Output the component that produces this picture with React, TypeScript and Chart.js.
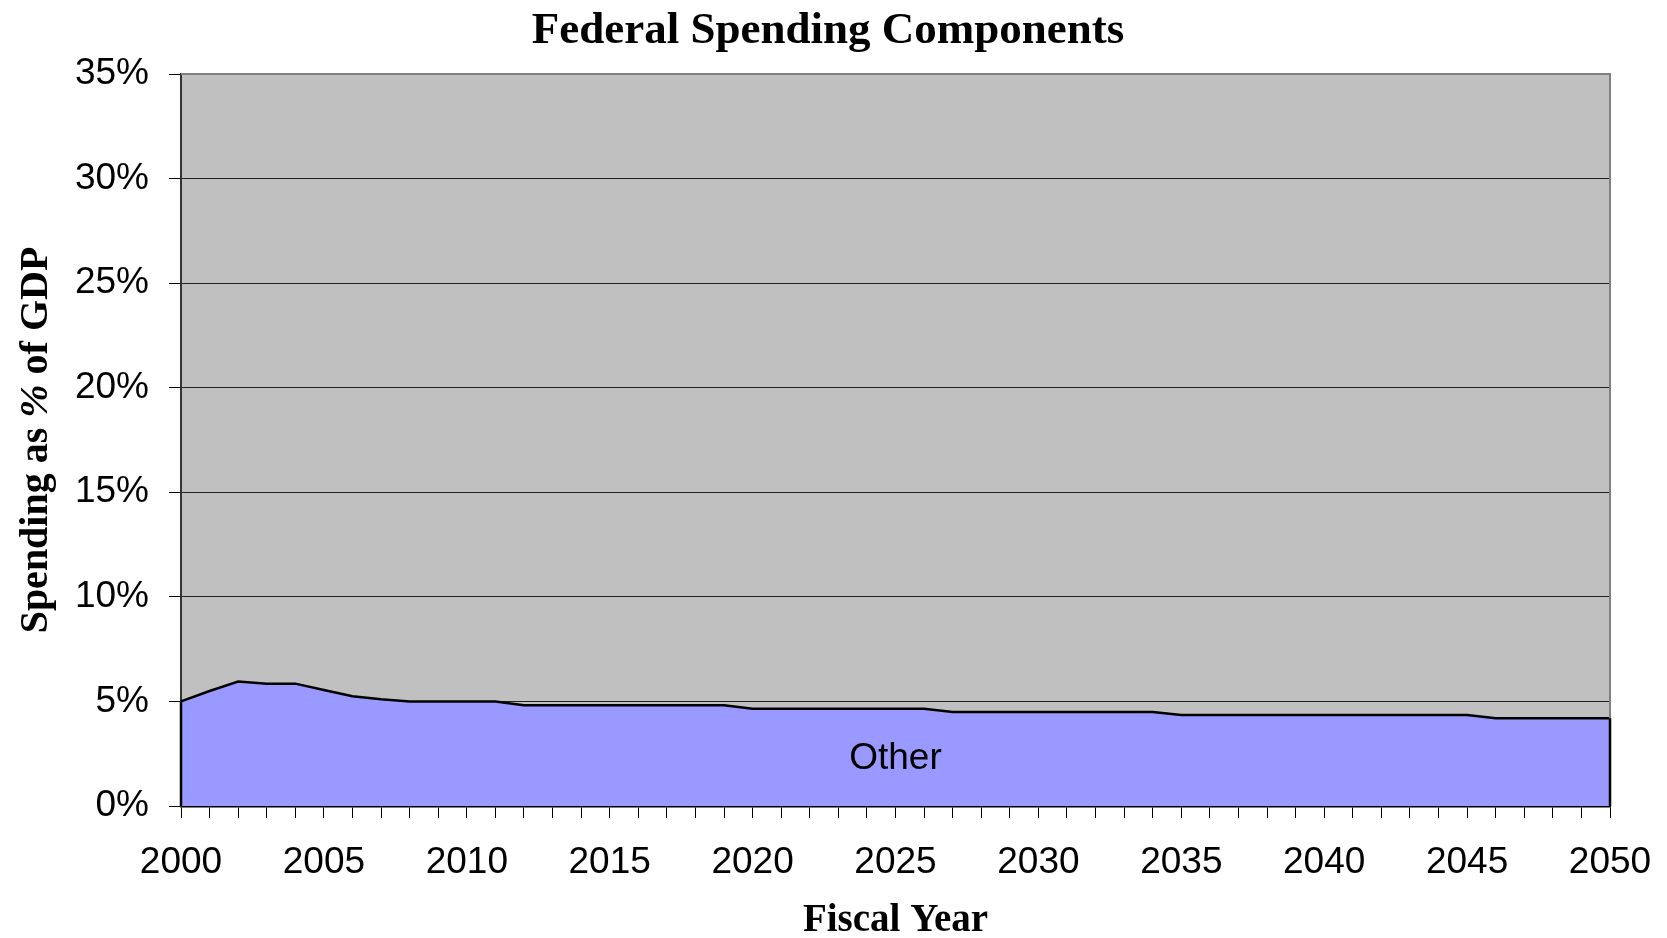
import React, { useEffect, useRef } from "react";
import { Chart, registerables } from "chart.js";

Chart.register(...registerables);

const years: string[] = [
  "2000", "2001", "2002", "2003", "2004", "2005", "2006", "2007", "2008", "2009",
  "2010", "2011", "2012", "2013", "2014", "2015", "2016", "2017", "2018", "2019",
  "2020", "2021", "2022", "2023", "2024", "2025", "2026", "2027", "2028", "2029",
  "2030", "2031", "2032", "2033", "2034", "2035", "2036", "2037", "2038", "2039",
  "2040", "2041", "2042", "2043", "2044", "2045", "2046", "2047", "2048", "2049",
  "2050",
];

const otherShare: number[] = [
  5.0, 5.5, 5.95, 5.85, 5.85, 5.55, 5.25, 5.1, 5.0, 5.0,
  5.0, 5.0, 4.82, 4.82, 4.82, 4.82, 4.82, 4.82, 4.82, 4.82,
  4.65, 4.65, 4.65, 4.65, 4.65, 4.65, 4.65, 4.5, 4.5, 4.5,
  4.5, 4.5, 4.5, 4.5, 4.5, 4.35, 4.35, 4.35, 4.35, 4.35,
  4.35, 4.35, 4.35, 4.35, 4.35, 4.35, 4.2, 4.2, 4.2, 4.2,
  4.2,
];

const yTicks: number[] = [0, 5, 10, 15, 20, 25, 30, 35];
const labeledYears: string[] = ["2000", "2005", "2010", "2015", "2020", "2025", "2030", "2035", "2040", "2045", "2050"];

const chartTitle = "Federal Spending Components";
const xTitle = "Fiscal Year";
const yTitleParts = [
  { text: "Spending as ", italic: false },
  { text: "%", italic: true },
  { text: " of GDP", italic: false },
];
const areaLabel = { text: "Other", year: "2025", value: 2.25 };

const SERIF = "'Liberation Serif', 'Times New Roman', serif";
const SANS = "'Liberation Sans', Arial, sans-serif";

const decorPlugin = {
  id: "decor",
  beforeDraw(chart: any) {
    const { ctx, chartArea } = chart;
    ctx.save();
    ctx.fillStyle = "#ffffff";
    ctx.fillRect(0, 0, chart.width, chart.height);
    ctx.fillStyle = "#C0C0C0";
    ctx.fillRect(chartArea.left, chartArea.top, chartArea.right - chartArea.left, chartArea.bottom - chartArea.top);
    ctx.restore();
  },
  afterDatasetsDraw(chart: any) {
    const { ctx, chartArea, scales } = chart;
    const x = scales.x;
    const y = scales.y;
    ctx.save();
    // plot border (top & right) in gray
    ctx.strokeStyle = "#808080";
    ctx.lineWidth = 2;
    ctx.beginPath();
    ctx.moveTo(chartArea.left, chartArea.top);
    ctx.lineTo(chartArea.right, chartArea.top);
    ctx.lineTo(chartArea.right, chartArea.bottom);
    ctx.stroke();
    // area edges in black
    ctx.strokeStyle = "#000000";
    ctx.lineWidth = 2.5;
    const first = otherShare[0];
    const last = otherShare[otherShare.length - 1];
    ctx.beginPath();
    ctx.moveTo(x.getPixelForValue(0), y.getPixelForValue(0));
    ctx.lineTo(x.getPixelForValue(0), y.getPixelForValue(first));
    ctx.moveTo(x.getPixelForValue(years.length - 1), y.getPixelForValue(0));
    ctx.lineTo(x.getPixelForValue(years.length - 1), y.getPixelForValue(last));
    ctx.stroke();
    // area label
    ctx.fillStyle = "#000000";
    ctx.font = `37px ${SANS}`;
    ctx.textAlign = "center";
    ctx.textBaseline = "middle";
    ctx.fillText(areaLabel.text, x.getPixelForValue(years.indexOf(areaLabel.year)), y.getPixelForValue(areaLabel.value));
    ctx.restore();
  },
  afterDraw(chart: any) {
    const { ctx, chartArea } = chart;
    ctx.save();
    ctx.fillStyle = "#000000";
    // title
    ctx.font = `bold 45px ${SERIF}`;
    ctx.textAlign = "center";
    ctx.textBaseline = "alphabetic";
    ctx.fillText(chartTitle, 828, 43);
    // x title
    ctx.font = `bold 39px ${SERIF}`;
    ctx.fillText(xTitle, (chartArea.left + chartArea.right) / 2, 931);
    // y title (rotated, with italic %)
    ctx.translate(47, 440);
    ctx.rotate(-Math.PI / 2);
    const widths = yTitleParts.map((p) => {
      ctx.font = `${p.italic ? "italic " : ""}bold 40px ${SERIF}`;
      return ctx.measureText(p.text).width;
    });
    const total = widths.reduce((a, b) => a + b, 0);
    let cx = -total / 2;
    ctx.textAlign = "left";
    yTitleParts.forEach((p, i) => {
      ctx.font = `${p.italic ? "italic " : ""}bold 40px ${SERIF}`;
      ctx.fillText(p.text, cx, 0);
      cx += widths[i];
    });
    ctx.restore();
  },
};

export default function App() {
  const canvasRef = useRef<HTMLCanvasElement | null>(null);

  useEffect(() => {
    document.body.style.margin = "0";
    const canvas = canvasRef.current;
    if (!canvas) return;
    const chart = new Chart(canvas, {
      type: "line",
      data: {
        labels: years,
        datasets: [
          {
            label: "Other",
            data: otherShare,
            fill: "origin",
            backgroundColor: "#9999FF",
            borderColor: "#000000",
            borderWidth: 2.5,
            pointRadius: 0,
            tension: 0,
          },
        ],
      },
      options: {
        responsive: false,
        animation: false,
        devicePixelRatio: 1,
        layout: { padding: { top: 74, left: 0, right: 57, bottom: 0 } },
        plugins: {
          legend: { display: false },
          title: { display: false },
          tooltip: { enabled: false },
        },
        scales: {
          x: {
            type: "category",
            offset: false,
            afterFit: (scale: any) => {
              scale.height = 132;
              scale.paddingLeft = 0;
              scale.paddingRight = 0;
            },
            border: { display: true, color: "#000000", width: 2.5 },
            grid: {
              display: true,
              drawOnChartArea: false,
              drawTicks: true,
              tickLength: 12,
              color: "#000000",
              lineWidth: 1,
            },
            ticks: {
              autoSkip: false,
              maxRotation: 0,
              minRotation: 0,
              padding: 23,
              color: "#000000",
              font: { family: SANS, size: 37 },
              callback: function (this: any, value: any) {
                const lab = this.getLabelForValue(value);
                return labeledYears.includes(lab) ? lab : "";
              },
            },
          },
          y: {
            type: "linear",
            min: 0,
            max: 35,
            afterFit: (scale: any) => {
              scale.width = 181;
              scale.paddingTop = 0;
              scale.paddingBottom = 0;
            },
            afterBuildTicks: (scale: any) => {
              scale.ticks = yTicks.map((v) => ({ value: v }));
            },
            border: { display: true, color: "#333333", width: 2 },
            grid: {
              color: (c: any) => (c.tick && c.tick.value === 35 ? "#808080" : "#222222"),
              tickColor: "#000000",
              lineWidth: 1,
              tickLength: 12,
            },
            ticks: {
              padding: 20,
              color: "#000000",
              font: { family: SANS, size: 37 },
              callback: (v: any) => `${v}%`,
            },
          },
        },
      },
      plugins: [decorPlugin],
    });
    return () => chart.destroy();
  }, []);

  return (
    <div style={{ width: 1667, height: 938 }}>
      <canvas ref={canvasRef} width={1667} height={938} style={{ display: "block" }} />
    </div>
  );
}
